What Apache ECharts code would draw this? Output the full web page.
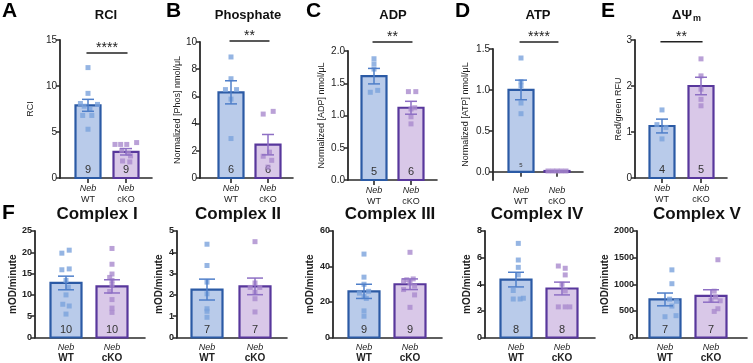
<!DOCTYPE html>
<html>
<head>
<meta charset="utf-8">
<script src="https://cdn.jsdelivr.net/npm/echarts@6/dist/echarts.min.js"></script>
<style>
  html, body { margin: 0; padding: 0; background: #fff; }
  #main { width: 753px; height: 363px; }
</style>
</head>
<body>
<div id="main"></div>
<script>
// ---- data ----
const groups = ['WT', 'cKO'];
const titles = ['RCI', 'Phosphate', 'ADP', 'ATP', 'ΔΨ', 'Complex I', 'Complex II', 'Complex III', 'Complex IV', 'Complex V'];
const letters = ['A', 'B', 'C', 'D', 'E', 'F'];
const yNames = ['RCI', 'Normalized [Phos] nmol/μL', 'Normalized [ADP] nmol/μL', 'Normalized [ATP] nmol/μL', 'Red/green RFU',
  'mOD/minute', 'mOD/minute', 'mOD/minute', 'mOD/minute', 'mOD/minute'];

// tick labels per panel
const rciTicks = [0, 5, 10, 15];
const phosTicks = [0, 2, 4, 6, 8, 10];
const adpTicks = [0, 0.5, 1.0, 1.5, 2.0];
const atpTicks = [0, 0.5, 1.0, 1.5];
const psiTicks = [0, 1, 2, 3];
const c1Ticks = [0, 5, 10, 15, 20, 25];
const c2Ticks = [0, 1, 2, 3, 4, 5];
const c3Ticks = [0, 20, 40, 60];
const c4Ticks = [0, 2, 4, 6, 8];
const c5Ticks = [0, 500, 1000, 1500, 2000];
const yMin = [0, 0, 0, -0.1, 0, 0, 0, 0, 0, 0];

// individual animals
const rciWT = [12.0, 9.2, 8.1, 8.0, 7.8, 7.5, 6.8, 6.8, 5.3];
const rciKO = [3.65, 3.65, 3.65, 3.85, 3.0, 2.7, 2.4, 1.85, 1.75];
const phosWT = [8.9, 7.3, 6.5, 6.5, 5.8, 2.9];
const phosKO = [4.9, 4.7, 1.9, 1.6, 1.3, 0.8];
const adpWT = [1.88, 1.80, 1.72, 1.39, 1.36];
const adpKO = [1.37, 1.37, 1.12, 1.10, 0.98, 0.87];
const atpWT = [1.39, 1.10, 1.05, 0.84, 0.71];
const atpKO = [0.01, 0.01, 0.01, 0.01, 0.01];
const psiWT = [1.48, 1.16, 1.10, 0.85];
const psiKO = [2.59, 2.22, 1.93, 1.71, 1.57];
const c1WT = [20.5, 19.8, 16.1, 15.9, 13.4, 11.8, 10.0, 7.8, 7.4, 5.5];
const c1KO = [20.9, 17.2, 14.9, 14.1, 13.4, 12.4, 10.8, 8.9, 6.9, 5.9];
const c2WT = [4.38, 3.38, 2.6, 2.05, 1.35, 1.23, 0.95];
const c2KO = [4.5, 2.56, 2.35, 2.35, 2.12, 1.82, 1.2];
const c3WT = [47, 34, 30, 26, 25, 23, 22, 15, 12];
const c3KO = [48, 33, 32.5, 32, 31, 29, 27, 24, 17];
const c4WT = [7.07, 5.82, 5.27, 4.7, 3.53, 2.89, 2.89, 2.95];
const c4KO = [5.37, 5.2, 4.7, 4.0, 3.5, 2.3, 2.3, 2.3];
const c5WT = [1270, 1010, 720, 680, 590, 410, 390];
const c5KO = [1460, 870, 760, 700, 690, 540, 490];

// horizontal scatter of the dots (in category widths)
const rciWTJit = [0, 0, -0.2, 0.25, -0.1, 0.05, -0.14, 0.1, 0];
const rciKOJit = [-0.29, -0.14, 0.02, 0.28, -0.11, 0.06, 0.12, -0.09, 0.1];
const phosWTJit = [0, 0, -0.15, 0.15, 0, 0];
const phosKOJit = [0.14, -0.13, 0.04, -0.13, 0.1, 0];
const adpWTJit = [0, 0, 0, 0.1, -0.1];
const adpKOJit = [-0.07, 0.13, 0.1, 0, 0, 0];
const atpWTJit = [0, 0, 0, 0, 0];
const atpKOJit = [-0.25, -0.12, 0, 0.12, 0.25];
const psiWTJit = [0, -0.13, 0.1, 0];
const psiKOJit = [0, 0, 0, 0, 0];
const c1WTJit = [0.07, -0.09, 0.07, -0.09, 0, 0.05, 0, -0.07, 0.07, 0];
const c1KOJit = [0, 0, 0, -0.05, 0, 0, -0.05, 0, 0, 0];
const c2WTJit = [0, 0, 0, 0, 0, 0, 0];
const c2KOJit = [0, 0, -0.1, 0.1, 0, 0, 0];
const c3WTJit = [0, 0, 0, 0.1, -0.1, 0, 0.05, 0, 0];
const c3KOJit = [0, 0.07, -0.07, -0.14, 0, 0.1, -0.14, 0.1, 0];
const c4WTJit = [0.05, 0.05, 0.05, 0.05, -0.06, -0.06, 0.09, 0.16];
const c4KOJit = [-0.08, 0.07, 0.07, 0, 0.07, -0.08, 0.07, 0.17];
const c5WTJit = [0.15, 0.15, 0.1, 0.25, 0.15, 0.24, 0];
const c5KOJit = [0.15, 0.07, 0.1, 0, 0.2, 0.15, 0.07];

// bar heights (mean), SEM and n
const wtMean = [7.9, 6.3, 1.61, 1.0, 1.13, 12.8, 2.25, 26, 4.35, 715];
const koMean = [2.85, 2.45, 1.12, 0.01, 2.0, 12.0, 2.4, 30, 3.68, 780];
const wtSem = [0.65, 0.85, 0.12, 0.12, 0.15, 1.6, 0.49, 4, 0.55, 120];
const koSem = [0.35, 0.75, 0.1, 0, 0.19, 1.55, 0.39, 3, 0.48, 117];
const wtN = [9, 6, 5, 5, 4, 10, 7, 9, 8, 7];
const koN = [9, 6, 6, '', 5, 10, 7, 9, 8, 7];

// significance (top row)
const sigY = [13.6, 10.07, 2.14, 1.585, 2.96];
const sigText = ['****', '**', '**', '****', '**'];

const ticks = [rciTicks, phosTicks, adpTicks, atpTicks, psiTicks, c1Ticks, c2Ticks, c3Ticks, c4Ticks, c5Ticks];
const ptsWT = [rciWT, phosWT, adpWT, atpWT, psiWT, c1WT, c2WT, c3WT, c4WT, c5WT];
const ptsKO = [rciKO, phosKO, adpKO, atpKO, psiKO, c1KO, c2KO, c3KO, c4KO, c5KO];
const jitWT = [rciWTJit, phosWTJit, adpWTJit, atpWTJit, psiWTJit, c1WTJit, c2WTJit, c3WTJit, c4WTJit, c5WTJit];
const jitKO = [rciKOJit, phosKOJit, adpKOJit, atpKOJit, psiKOJit, c1KOJit, c2KOJit, c3KOJit, c4KOJit, c5KOJit];

// ---- layout (pixels) ----
const axisLeft = [60, 200, 348, 493, 635, 35, 177, 333, 485, 637];
const axisRight = [152, 293, 437, 583, 727, 145, 287, 442, 595, 747];
const center0 = [88, 231, 374, 521, 662, 66, 207, 364, 516, 665];
const center1 = [126, 268, 411, 557, 701, 112, 255, 410, 562, 711];
const axisTop = [40, 42, 51, 49, 40, 231, 231, 231, 231, 231];
const axisBottom = [178, 178, 180, 180, 178, 338, 338, 338, 338, 338];
const nameGap = [25, 17, 22, 23, 9, 17, 13, 18, 13, 23];
const titleX = [106, 248, 393, 538, 682, 97, 238, 390, 537, 697];
const letterX = [2, 166, 306, 455, 601, 2];

const FONT = "'Liberation Sans', Arial, sans-serif";
const fill = ['#b9cbea', '#d9c8e8'];
const edge = ['#2b5aa5', '#58379c'];
const dot = ['#7aa2dc', '#a98acd'];
const err = ['#4f7fc9', '#8e6fc4'];
const AX = '#2a2a2a';

const chart = echarts.init(document.getElementById('main'));
const grids = [], xAxes = [], yAxes = [], series = [], graphics = [];

for (let p = 0; p < 10; p++) {
  const low = p >= 5;
  const sp = center1[p] - center0[p];
  const tk = ticks[p];
  grids.push({
    left: axisLeft[p], top: axisTop[p],
    width: axisRight[p] - axisLeft[p], height: axisBottom[p] - axisTop[p]
  });
  xAxes.push({
    gridIndex: p, type: 'value',
    min: -(center0[p] - axisLeft[p]) / sp,
    max: 1 + (axisRight[p] - center1[p]) / sp,
    splitLine: { show: false },
    axisLine: { show: true, onZero: true, lineStyle: { color: AX, width: 1.6 } },
    axisTick: { show: !low, customValues: [0, 1], length: 5, lineStyle: { color: AX, width: 1.6 } },
    axisLabel: {
      customValues: [0, 1], margin: 5,
      formatter: v => '{i|Neb}\n{g|' + groups[Math.round(v)] + '}',
      rich: {
        i: { fontStyle: 'italic', fontSize: 9, color: '#222', fontFamily: FONT, lineHeight: low ? 10 : 11 },
        g: { fontSize: low ? 10 : 9, fontWeight: low ? 'bold' : 'normal', color: '#222', fontFamily: FONT, lineHeight: 11 }
      }
    }
  });
  yAxes.push({
    gridIndex: p, type: 'value', min: yMin[p], max: tk[tk.length - 1],
    name: yNames[p], nameLocation: 'middle', nameRotate: 90, nameGap: nameGap[p],
    nameTextStyle: { fontSize: low ? 10 : 9, fontWeight: low ? 'bold' : 'normal', color: '#222', fontFamily: FONT },
    splitLine: { show: false },
    axisLine: { show: true, onZero: false, lineStyle: { color: AX, width: 1.8 } },
    axisTick: { show: true, customValues: tk, length: 4, lineStyle: { color: AX, width: 1.5 } },
    axisLabel: {
      customValues: tk, fontSize: low ? 9 : 10, margin: 3, color: '#222', fontFamily: FONT,
      fontWeight: low ? 'bold' : 'normal',
      formatter: v => (p === 2 || p === 3) ? v.toFixed(1) : String(v)
    }
  });

  const means = [wtMean[p], koMean[p]];
  const sems = [wtSem[p], koSem[p]];
  const ns = [wtN[p], koN[p]];
  const bw = low ? 31 : 25;

  // bars with n inside
  series.push({
    type: 'custom', xAxisIndex: p, yAxisIndex: p, z: 2,
    data: [[0, means[0]], [1, means[1]]],
    renderItem: (params, api) => {
      const i = params.dataIndex;
      const base = api.coord([i, 0]);
      const top = api.coord([i, api.value(1)]);
      const kids = [{
        type: 'rect',
        shape: { x: base[0] - bw / 2, y: top[1], width: bw, height: base[1] - top[1] },
        style: { fill: fill[i], stroke: edge[i], lineWidth: 2.2 }
      }];
      if (ns[i] !== '') {
        kids.push({
          type: 'text',
          style: {
            text: String(ns[i]), x: base[0], y: base[1] - (low ? 2 : 3),
            align: 'center', verticalAlign: 'bottom',
            fontSize: p === 3 ? 6 : 11, fontFamily: FONT, fill: '#333'
          }
        });
      }
      return { type: 'group', children: kids };
    }
  });

  // dots
  [ptsWT[p], ptsKO[p]].forEach((arr, g) => {
    const jit = g === 0 ? jitWT[p] : jitKO[p];
    series.push({
      type: 'scatter', xAxisIndex: p, yAxisIndex: p, z: 3,
      symbol: 'rect', symbolSize: 5,
      itemStyle: { color: dot[g] },
      data: arr.map((v, k) => [g + jit[k], v])
    });
  });

  // SEM
  series.push({
    type: 'custom', xAxisIndex: p, yAxisIndex: p, z: 4,
    data: [[0, means[0], sems[0]], [1, means[1], sems[1]]],
    renderItem: (params, api) => {
      const i = params.dataIndex;
      const s = api.value(2);
      if (!s) return null;
      const hi = api.coord([i, api.value(1) + s]);
      const lo = api.coord([i, api.value(1) - s]);
      const hw = low ? 8 : 6;
      const st = { stroke: err[i], lineWidth: 1.5 };
      return {
        type: 'group', children: [
          { type: 'line', shape: { x1: hi[0], y1: hi[1], x2: lo[0], y2: lo[1] }, style: st },
          { type: 'line', shape: { x1: hi[0] - hw, y1: hi[1], x2: hi[0] + hw, y2: hi[1] }, style: st },
          { type: 'line', shape: { x1: lo[0] - hw, y1: lo[1], x2: lo[0] + hw, y2: lo[1] }, style: st }
        ]
      };
    }
  });

  // significance bracket
  if (!low) {
    series.push({
      type: 'custom', xAxisIndex: p, yAxisIndex: p, z: 5,
      data: [[0.5, sigY[p]]],
      renderItem: (params, api) => {
        const a = api.coord([-0.04, api.value(1)]);
        const b = api.coord([1.04, api.value(1)]);
        const m = api.coord([0.5, api.value(1)]);
        return {
          type: 'group', children: [
            { type: 'line', shape: { x1: a[0], y1: a[1], x2: b[0], y2: b[1] }, style: { stroke: '#222', lineWidth: 1.5 } },
            { type: 'text', style: { text: sigText[p], x: m[0], y: m[1] + 2, align: 'center', verticalAlign: 'bottom', fontSize: 14, fontFamily: FONT, fill: '#222' } }
          ]
        };
      }
    });
  }

  // panel title
  graphics.push({
    type: 'text', x: titleX[p], y: low ? 214 : 15,
    style: {
      text: titles[p], align: 'center', verticalAlign: 'middle',
      fontSize: low ? 17 : 13, fontWeight: 'bold', fontFamily: FONT, fill: '#111'
    }
  });
}

// subscript m of ΔΨm
graphics.push({
  type: 'text', x: 693, y: 19,
  style: { text: 'm', align: 'left', verticalAlign: 'middle', fontSize: 9, fontWeight: 'bold', fontFamily: FONT, fill: '#111' }
});

letters.forEach((l, k) => {
  graphics.push({
    type: 'text', x: letterX[k], y: k < 5 ? 11 : 213,
    style: { text: l, align: 'left', verticalAlign: 'middle', fontSize: 21, fontWeight: 'bold', fontFamily: FONT, fill: '#000' }
  });
});

chart.setOption({
  animation: false,
  grid: grids,
  xAxis: xAxes,
  yAxis: yAxes,
  series: series,
  graphic: graphics
});
</script>
</body>
</html>
